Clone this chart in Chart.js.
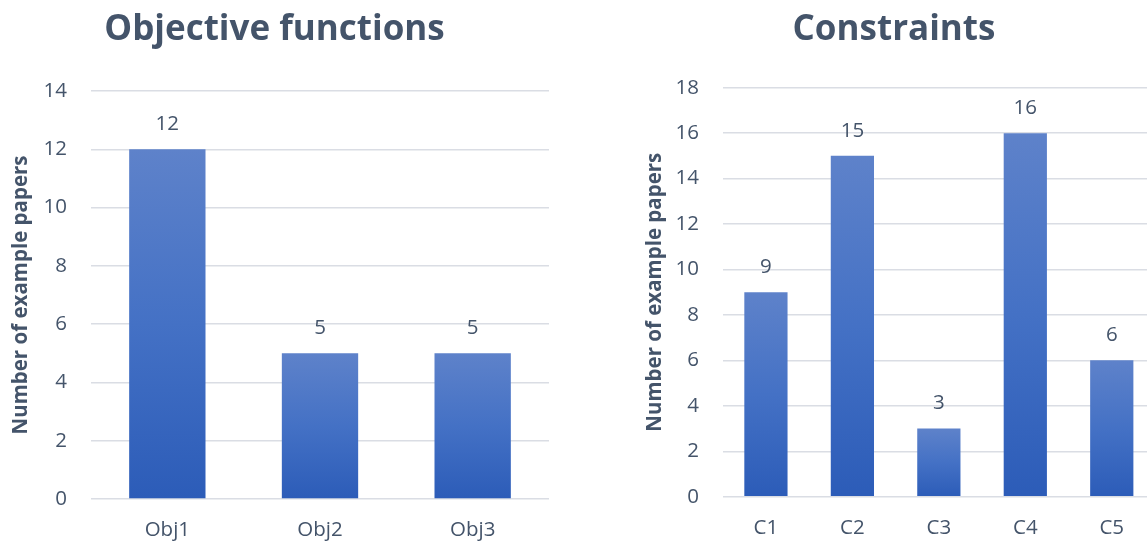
<!DOCTYPE html>
<html>
<head>
<meta charset="utf-8">
<script src="https://cdn.jsdelivr.net/npm/chart.js@4"></script>
<style>
  html, body { margin: 0; padding: 0; background: #fff; }
  body { width: 1147px; height: 543px; overflow: hidden; position: relative; }
  canvas { position: absolute; top: 0; }
  #objChart { left: 0; }
  #conChart { left: 633px; }
</style>
</head>
<body>
<canvas id="objChart" width="552" height="543"></canvas>
<canvas id="conChart" width="522" height="543"></canvas>
<script>
// data
const objLabels = ['Obj1', 'Obj2', 'Obj3'];
const objCounts = [12, 5, 5];
const objMax = 14;

const conLabels = ['C1', 'C2', 'C3', 'C4', 'C5'];
const conCounts = [9, 15, 3, 16, 6];
const conMax = 18;

const yTitle = 'Number of example papers';
const tickStep = 2;

const textColor = '#44546A';
const gridColor = '#DADDE4';
const fontFamily = "'Open Sans', sans-serif";

// each bar: lighter at its top, darker at its base
function barGradient(ctx) {
  const chart = ctx.chart;
  if (!chart.chartArea || ctx.raw === undefined) return '#4472C4';
  const y = chart.scales.y;
  const top = y.getPixelForValue(ctx.raw);
  const base = y.getPixelForValue(0);
  const g = chart.ctx.createLinearGradient(0, top, 0, base);
  g.addColorStop(0, '#5E82CA');
  g.addColorStop(0.5, '#4471C5');
  g.addColorStop(1, '#2C5CB8');
  return g;
}

// value labels above the bars
const valueLabels = {
  id: 'valueLabels',
  afterDatasetsDraw(chart) {
    const ctx = chart.ctx;
    const values = chart.data.datasets[0].data;
    ctx.save();
    ctx.font = '20.5px ' + fontFamily;
    ctx.fillStyle = textColor;
    ctx.textAlign = 'center';
    ctx.textBaseline = 'middle';
    chart.getDatasetMeta(0).data.forEach((bar, i) => {
      ctx.fillText(String(values[i]), bar.x, bar.y - 25);
    });
    ctx.restore();
  }
};

function makeChart(id, title, labels, values, max, opts) {
  return new Chart(document.getElementById(id), {
    type: 'bar',
    data: {
      labels: labels,
      datasets: [{
        data: values,
        backgroundColor: barGradient,
        barPercentage: 0.5,
        categoryPercentage: 1
      }]
    },
    options: {
      responsive: false,
      animation: false,
      layout: { padding: { left: 0, right: opts.padRight, top: 0, bottom: 0 } },
      plugins: {
        legend: { display: false },
        tooltip: { enabled: false },
        title: {
          display: true,
          text: title,
          color: textColor,
          font: { family: fontFamily, size: 35, weight: 'bold', lineHeight: 1.2 },
          padding: { top: 9, bottom: opts.titleBottom }
        }
      },
      scales: {
        x: {
          grid: { display: false },
          border: { display: false },
          ticks: { color: textColor, font: { family: fontFamily, size: 20.5 }, padding: 11 },
          afterFit: (scale) => { scale.height = opts.xHeight; }
        },
        y: {
          min: 0,
          max: max,
          grid: { color: gridColor, lineWidth: 1.5, drawTicks: false },
          border: { display: false },
          ticks: { stepSize: tickStep, color: textColor, font: { family: fontFamily, size: 20.5 }, padding: opts.tickPad },
          title: {
            display: true,
            text: yTitle,
            color: textColor,
            font: { family: fontFamily, size: 20.5, weight: 'bold', lineHeight: 1.2 },
            padding: { top: opts.titlePad, bottom: 0 }
          },
          afterFit: (scale) => { scale.width = opts.yWidth; }
        }
      }
    },
    plugins: [valueLabels]
  });
}

makeChart('objChart', 'Objective functions', objLabels, objCounts, objMax, {
  padRight: 3, titleBottom: 40, xHeight: 44, yWidth: 91, tickPad: 24, titlePad: 8.5
});
makeChart('conChart', 'Constraints', conLabels, conCounts, conMax, {
  padRight: 0, titleBottom: 36.7, xHeight: 46.3, yWidth: 89.7, tickPad: 23.7, titlePad: 9.5
});
</script>
</body>
</html>
